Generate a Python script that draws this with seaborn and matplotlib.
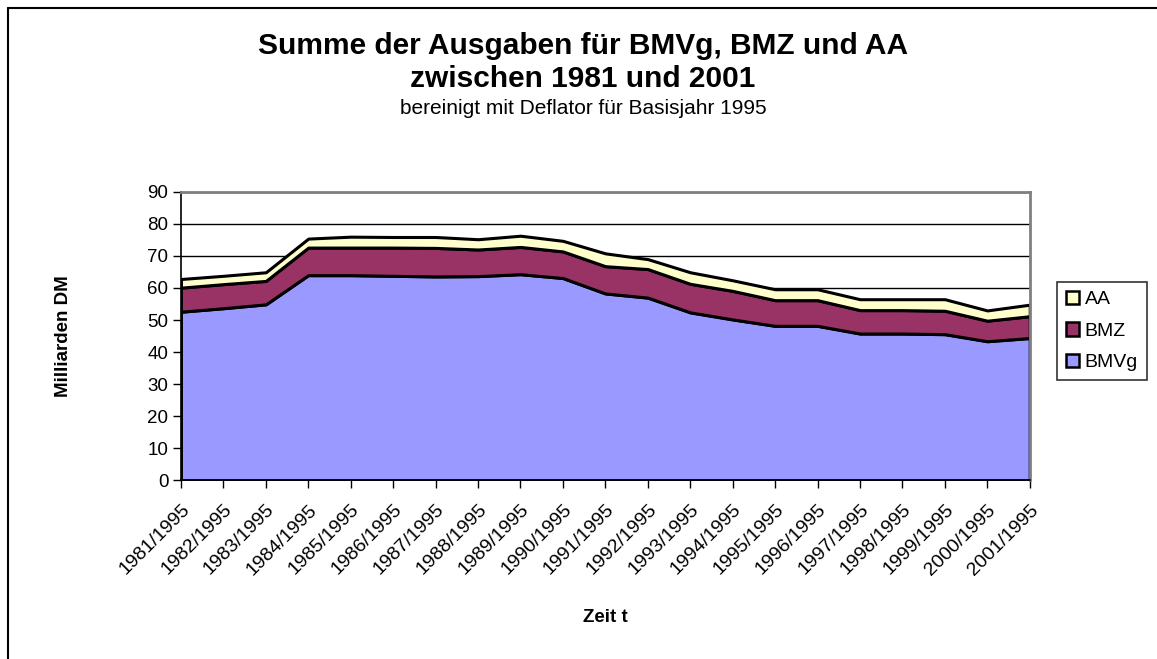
import numpy as np
import pandas as pd
import matplotlib.pyplot as plt
import seaborn as sns

# ─── DATA (Milliarden DM, deflationiert Basisjahr 1995) ─────────────────────
years = [f"{y}/1995" for y in range(1981, 2002)]
bmvg = [52.6, 53.7, 54.9, 64.0, 64.0, 63.8, 63.6, 63.7, 64.3, 63.1, 58.3,
        57.0, 52.4, 50.2, 48.2, 48.2, 45.8, 45.8, 45.6, 43.4, 44.4]
bmz = [7.5, 7.5, 7.3, 8.6, 8.6, 8.8, 8.9, 8.3, 8.5, 8.3, 8.5,
       8.9, 8.9, 8.9, 8.0, 8.0, 7.3, 7.3, 7.3, 6.4, 6.8]
aa = [2.7, 2.6, 2.7, 2.8, 3.4, 3.3, 3.4, 3.2, 3.5, 3.3, 4.0,
      3.1, 3.6, 3.3, 3.4, 3.4, 3.4, 3.4, 3.6, 3.2, 3.6]

C_BMVG = "#9999FF"
C_BMZ = "#993366"
C_AA = "#FFFFCC"

# ─── STYLE ───────────────────────────────────────────────────────────────────
sns.set_theme(style="white")
plt.rcParams.update({
    "text.color": "black",
    "axes.labelcolor": "black",
    "xtick.color": "black",
    "ytick.color": "black",
})
plt.rcParams["font.family"] = ["Liberation Sans", "DejaVu Sans"]

df = pd.DataFrame({"Jahr": years, "BMVg": bmvg, "BMZ": bmz, "AA": aa})
x = np.arange(len(df))

fig = plt.figure(figsize=(11.57, 6.59), dpi=100)
ax = fig.add_axes([0.1564, 0.271, 0.7336, 0.438])

ax.stackplot(x, df["BMVg"], df["BMZ"], df["AA"],
             colors=[C_BMVG, C_BMZ, C_AA], labels=["BMVg", "BMZ", "AA"],
             edgecolor="black", linewidth=2.2)

ax.set_xlim(0, len(df) - 1)
ax.set_ylim(0, 90)
ax.set_yticks(range(0, 91, 10))
ax.set_xticks(x)
ax.set_xticklabels(df["Jahr"], rotation=45, ha="right", rotation_mode="anchor")
ax.tick_params(axis="both", length=6, width=1, direction="out",
               left=True, bottom=True)
ax.tick_params(axis="x", labelsize=14, pad=9)
ax.tick_params(axis="y", labelsize=13.5, pad=3)
ax.yaxis.grid(True, color="black", linewidth=1)
ax.set_axisbelow(True)

for side in ["left", "bottom"]:
    ax.spines[side].set_color("black")
    ax.spines[side].set_linewidth(1.2)
for side in ["top", "right"]:
    ax.spines[side].set_color("#808080")
    ax.spines[side].set_linewidth(2)

ax.set_ylabel("Milliarden DM", fontsize=13.5, fontweight="bold", labelpad=54)
ax.set_xlabel("Zeit t", fontsize=13.5, fontweight="bold", labelpad=22)

# legend in reverse order (AA on top), square boxes with black edges
handles, labels = ax.get_legend_handles_labels()
leg = ax.legend(handles[::-1], labels[::-1], loc="upper left",
                bbox_to_anchor=(1.032, 0.687), fontsize=14,
                frameon=True, fancybox=False, edgecolor="black",
                handlelength=0.68, handleheight=0.68,
                handletextpad=0.3, borderpad=0.45,
                labelspacing=0.72, borderaxespad=0)
leg.get_frame().set_linewidth(1.2)
for h in leg.legend_handles:
    h.set_edgecolor("black")
    h.set_linewidth(1.8)

fig.text(0.504, 1 - 46 / 659, "Summe der Ausgaben für BMVg, BMZ und AA",
         ha="center", va="center", fontsize=21.5, fontweight="bold")
fig.text(0.504, 1 - 79 / 659, "zwischen 1981 und 2001",
         ha="center", va="center", fontsize=21.5, fontweight="bold")
fig.text(0.504, 1 - 109 / 659, "bereinigt mit Deflator für Basisjahr 1995",
         ha="center", va="center", fontsize=15)

# outer chart frame (only top and left edges visible in the original)
fig.add_artist(plt.Line2D([8 / 1157, 1.0], [1 - 8 / 659] * 2,
                          transform=fig.transFigure, color="black", lw=1.5))
fig.add_artist(plt.Line2D([8 / 1157] * 2, [0.0, 1 - 8 / 659],
                          transform=fig.transFigure, color="black", lw=1.5))

fig.savefig("out.png", dpi=100, facecolor="white")
plt.close(fig)
